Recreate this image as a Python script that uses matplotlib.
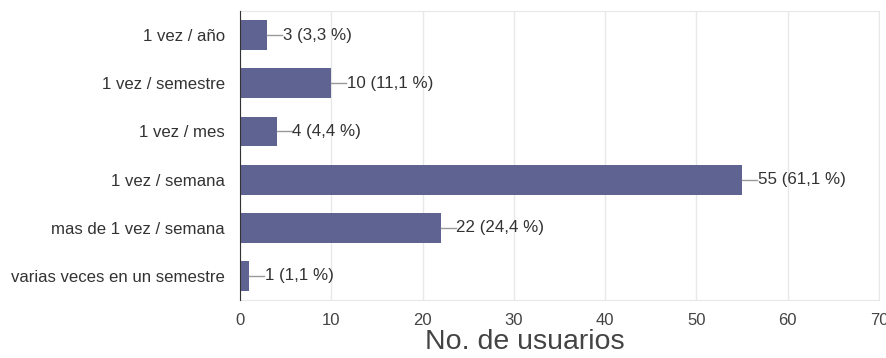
import matplotlib
matplotlib.use("Agg")
import matplotlib.pyplot as plt

plt.rcParams['font.family'] = ['Liberation Sans', 'DejaVu Sans']

categorias = ["1 vez / año", "1 vez / semestre", "1 vez / mes", "1 vez / semana",
              "mas de 1 vez / semana", "varias veces en un semestre"]
usuarios = [3, 10, 4, 55, 22, 1]
porcentajes = ["3,3", "11,1", "4,4", "61,1", "24,4", "1,1"]
xticks = [0, 10, 20, 30, 40, 50, 60, 70]

fig = plt.figure(figsize=(8.87, 3.58), dpi=100)
ax = fig.add_axes([0.2706, 0.162, 0.7204, 0.807])

y = list(range(len(categorias)))
ax.barh(y, usuarios, height=0.62, color="#5f6391", zorder=3)

# etiquetas con linea guia
for yi, v, p in zip(y, usuarios, porcentajes):
    ax.plot([v, v + 1.65], [yi, yi], color="#999999", lw=1, zorder=3)
    ax.text(v + 1.7, yi, f"{v} ({p} %)", va="center", ha="left",
            fontsize=12.2, color="#333333", zorder=4)

ax.set_xlim(0, 70)
ax.set_ylim(len(categorias) - 0.5, -0.5)
ax.set_yticks(y)
ax.set_yticklabels(categorias, fontsize=12.1, color="#333333")
ax.set_xticks(xticks)
ax.set_xticklabels([str(t) for t in xticks], fontsize=12, color="#444444")
ax.tick_params(axis="both", length=0)
ax.tick_params(axis="y", pad=11)
ax.tick_params(axis="x", pad=9.5)

ax.grid(axis="x", color="#e8e8e8", lw=1, zorder=0)
for s in ["top", "right", "bottom"]:
    ax.spines[s].set_color("#e8e8e8")
ax.spines["left"].set_color("#333333")
ax.spines["left"].set_zorder(5)

ax.set_xlabel("No. de usuarios", fontsize=20.5, color="#444444")
ax.xaxis.set_label_coords(0.446, -0.1)
ax.xaxis.label.set_va("top")

fig.savefig("out.png", dpi=100)
